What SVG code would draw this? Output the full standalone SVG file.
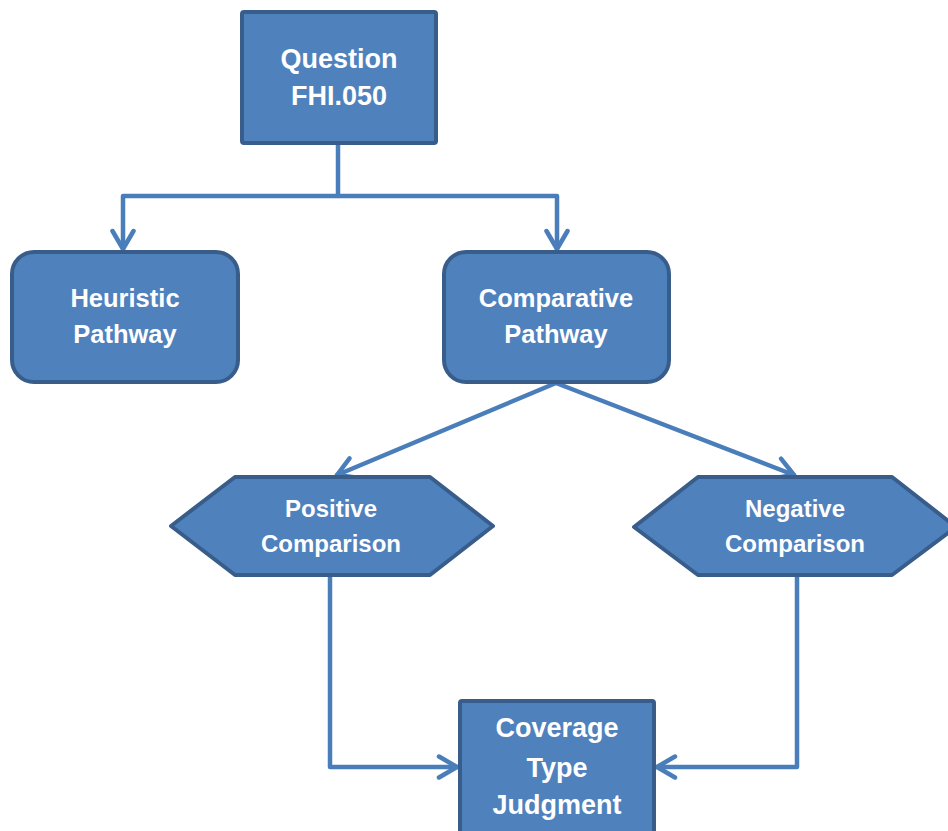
<svg xmlns="http://www.w3.org/2000/svg" width="948" height="831" viewBox="0 0 948 831">
  <style>
    .node { fill: #4F81BD; stroke: #385D8A; stroke-width: 4; stroke-linejoin: round; }
    .label { fill: #FFFFFF; font-family: "Liberation Sans", Arial, sans-serif; font-weight: bold; text-anchor: middle; }
    .big { font-size: 27px; }
    .mid { font-size: 25.5px; }
    .small { font-size: 24px; }
    .link { fill: none; stroke: #4A7EBB; stroke-width: 4.5; stroke-linejoin: round; stroke-linecap: round; }
  </style>
  <defs>
    <!-- open chevron arrowhead -->
    <marker id="arrow" viewBox="0 0 24 26" refX="21" refY="13" markerWidth="24" markerHeight="26" markerUnits="userSpaceOnUse" orient="auto">
      <path d="M3,2.5 L21,13 L3,23.5" fill="none" stroke="#4A7EBB" stroke-width="4.5" stroke-linecap="round" stroke-linejoin="round"/>
    </marker>
  </defs>

  <rect width="948" height="831" fill="#FFFFFF"/>

  <!-- connectors -->
  <g id="connectors">
    <path class="link" d="M338,143 V196 H123 V249" marker-end="url(#arrow)"/>
    <path class="link" d="M338,196 H557 V249" marker-end="url(#arrow)"/>
    <path class="link" d="M556,383 L337,475" marker-end="url(#arrow)"/>
    <path class="link" d="M556,383 L794,475" marker-end="url(#arrow)"/>
    <path class="link" d="M330,577 V767 H457" marker-end="url(#arrow)"/>
    <path class="link" d="M797,577 V767 H657" marker-end="url(#arrow)"/>
  </g>

  <g id="question">
    <rect class="node" x="242" y="12" width="194" height="131" rx="2"/>
    <text class="label big" x="339" y="68">Question</text>
    <text class="label big" x="339" y="105">FHI.050</text>
  </g>

  <g id="heuristic">
    <rect class="node" x="12" y="252" width="226" height="130" rx="22"/>
    <text class="label mid" x="125" y="307">Heuristic</text>
    <text class="label mid" x="125" y="343">Pathway</text>
  </g>

  <g id="comparative">
    <rect class="node" x="444" y="252" width="225" height="130" rx="22"/>
    <text class="label mid" x="556" y="307">Comparative</text>
    <text class="label mid" x="556" y="343">Pathway</text>
  </g>

  <g id="positive">
    <polygon class="node" points="171,526 235,477 430,477 493,526 430,575 235,575"/>
    <text class="label small" x="331" y="517">Positive</text>
    <text class="label small" x="331" y="552">Comparison</text>
  </g>

  <g id="negative">
    <polygon class="node" points="634,527 698,477 892,477 956,527 892,575 698,575"/>
    <text class="label small" x="795" y="517">Negative</text>
    <text class="label small" x="795" y="552">Comparison</text>
  </g>

  <g id="coverage">
    <rect class="node" x="460" y="701" width="194" height="140" rx="2"/>
    <text class="label big" x="557" y="737">Coverage</text>
    <text class="label big" x="557" y="777">Type</text>
    <text class="label big" x="557" y="814">Judgment</text>
  </g>
</svg>
